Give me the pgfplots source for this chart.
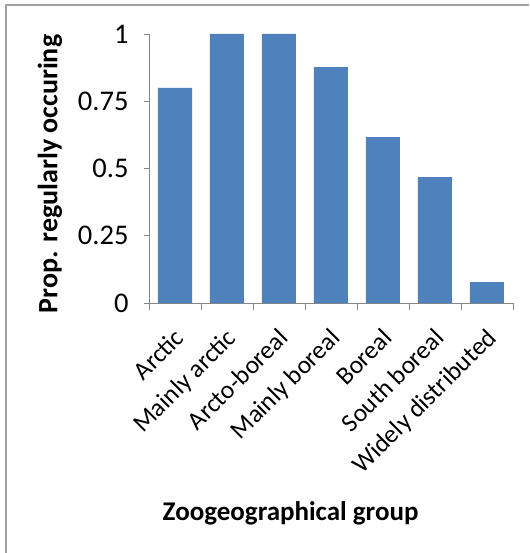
\documentclass[border=0pt]{standalone}
\usepackage{fontspec}
\setmainfont{Carlito}
\usepackage{pgfplots}
\pgfplotsset{compat=1.18}
\definecolor{barblue}{HTML}{4F81BD}
\definecolor{axisgray}{HTML}{868686}
\definecolor{framegray}{HTML}{A0A0A0}
\begin{document}
\begin{tikzpicture}[x=1pt,y=1pt]
\useasboundingbox (-149,-250) rectangle (380,303);
\draw[framegray, line width=1.2pt] (-143,-250) -- (-143,298) -- (380,298);
\begin{axis}[
  at={(0,0)}, anchor=south west,
  scale only axis, width=364pt, height=269pt,
  xmin=-0.5, xmax=6.5, ymin=0, ymax=1,
  axis x line*=bottom, axis y line*=left,
  axis line style={axisgray, line width=0.8pt, -},
  tick align=outside,
  xtick={0,...,6},
  xticklabels={Arctic, Mainly arctic, Arcto-boreal, Mainly boreal, Boreal, South  boreal, Widely distributed},
  minor xtick={-0.5,0.5,...,6.5},
  major x tick style={draw=none},
  minor x tick style={axisgray, line width=0.8pt},
  minor tick length=7pt,
  ytick={0,0.25,0.5,0.75,1},
  yticklabels={0,0.25,0.5,0.75,1},
  major y tick style={axisgray, line width=0.8pt},
  major tick length=5pt,
  /pgf/number format/assume math mode=true,
  yticklabel style={font=\fontsize{28.5}{32}\selectfont, xshift=-12pt},
  xticklabel style={font=\fontsize{25.5}{30}\selectfont, xshift=-2pt, yshift=-14pt, rotate=45, anchor=north east},
  xlabel={Zoogeographical group},
  ylabel={Prop. regularly occuring},
  xlabel style={font=\fontsize{27}{30}\selectfont\bfseries, at={(axis description cs:0.389,-0.807)}, anchor=base},
  ylabel style={font=\fontsize{28}{30}\selectfont\bfseries, at={(axis description cs:-0.272,0.48)}, anchor=center, rotate=0},
  clip=false,
]
\addplot[ybar, bar width=34pt, fill=barblue, draw=none] coordinates {
  (0,0.80) (1,1.0) (2,1.0) (3,0.877) (4,0.617) (5,0.468) (6,0.078)
};
\end{axis}
\end{tikzpicture}
\end{document}
